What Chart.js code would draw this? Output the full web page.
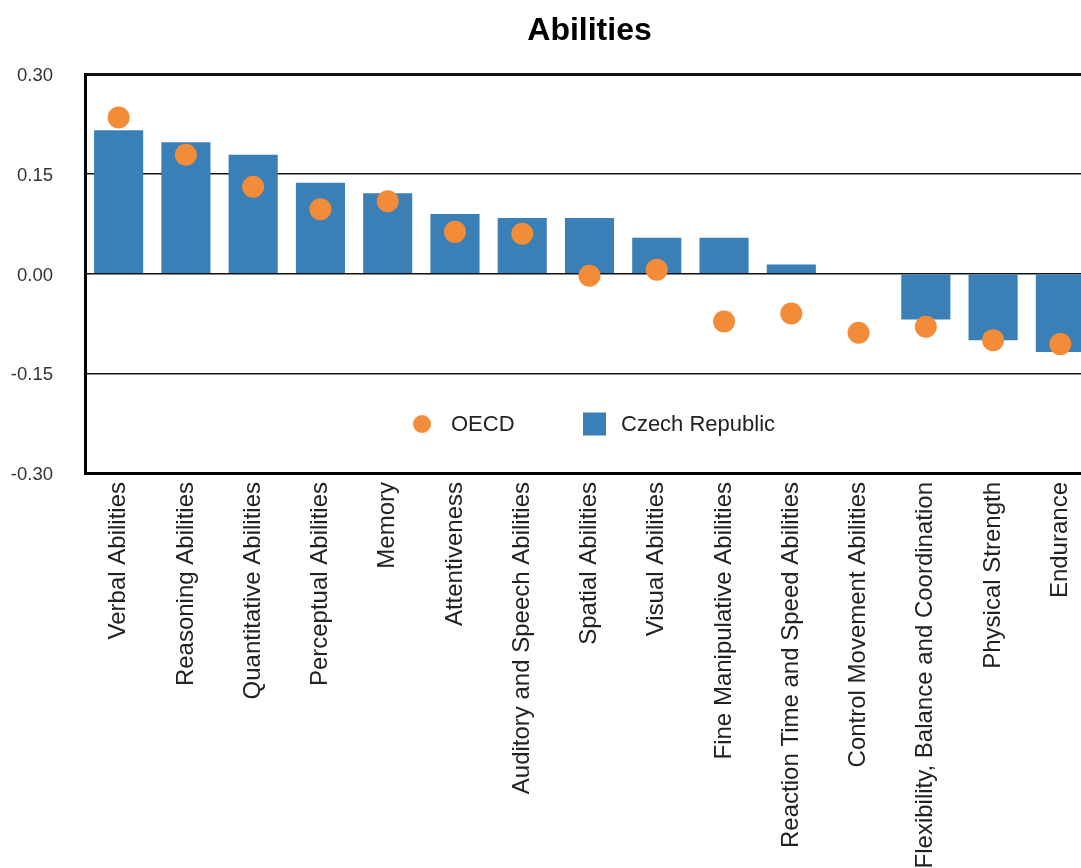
<!DOCTYPE html>
<html>
<head>
<meta charset="utf-8">
<script src="https://cdn.jsdelivr.net/npm/chart.js@4.4.1/dist/chart.umd.min.js"></script>
<style>
  html, body { margin: 0; padding: 0; background: #fff; overflow: hidden; }
  canvas { display: block; }
</style>
</head>
<body>
<canvas id="grafikAbilities" width="1110" height="868"></canvas>
<script>
const labels = [
    "Verbal Abilities", "Reasoning Abilities", "Quantitative Abilities", "Perceptual Abilities",
    "Memory", "Attentiveness", "Auditory and Speech Abilities", "Spatial Abilities",
    "Visual Abilities", "Fine Manipulative Abilities", "Reaction Time and Speed Abilities",
    "Control Movement Abilities", "Flexibility, Balance and Coordination", "Physical Strength", "Endurance"
];
const czech = [0.216, 0.198, 0.179, 0.137, 0.121, 0.090, 0.084, 0.084, 0.054, 0.054, 0.014, 0.0, -0.069, -0.100, -0.118];
const oecd = [0.235, 0.179, 0.131, 0.097, 0.109, 0.063, 0.060, -0.003, 0.006, -0.072, -0.060, -0.089, -0.080, -0.100, -0.106];
const yTicks = [-0.30, -0.15, 0.00, 0.15, 0.30];

const blue = "#3a7fb5";
const orange = "#f28c38";
const font = "'Liberation Sans', Arial, Helvetica, sans-serif";

// legend drawn inside the plot area, like the original
const innerLegend = {
    id: "innerLegend",
    afterDraw(chart) {
        const ctx = chart.ctx;
        const a = chart.chartArea;
        const y = a.bottom - 49;
        ctx.save();
        ctx.fillStyle = orange;
        ctx.beginPath();
        ctx.arc(a.left + 337, y, 9, 0, Math.PI * 2);
        ctx.fill();
        ctx.fillStyle = blue;
        ctx.fillRect(a.left + 498, y - 11.5, 23, 23);
        ctx.fillStyle = "#222";
        ctx.font = "22px " + font;
        ctx.textBaseline = "middle";
        ctx.fillText(chart.data.datasets[0].label, a.left + 366, y + 1);
        ctx.fillText(chart.data.datasets[1].label, a.left + 536, y + 1);
        ctx.restore();
    },
};

new Chart(document.getElementById("grafikAbilities"), {
    data: {
        labels: labels,
        datasets: [
            {
                type: "line",
                label: "OECD",
                data: oecd,
                showLine: false,
                pointRadius: 11,
                pointHoverRadius: 11,
                pointBackgroundColor: orange,
                pointBorderWidth: 0,
                borderColor: orange,
                order: 0,
            },
            {
                type: "bar",
                label: "Czech Republic",
                data: czech,
                backgroundColor: blue,
                barPercentage: 0.73,
                categoryPercentage: 1,
                order: 1,
            },
        ],
    },
    options: {
        responsive: false,
        animation: false,
        layout: { padding: { left: 0, right: 16, top: 0, bottom: 0 } },
        plugins: {
            legend: { display: false },
            tooltip: { enabled: false },
            title: {
                display: true,
                text: "Abilities",
                fullSize: false,
                color: "#000",
                font: { family: font, size: 32, weight: "bold" },
                padding: { top: 12, bottom: 24 },
            },
        },
        scales: {
            x: {
                grid: { display: false, drawTicks: false },
                border: { color: "#000", width: 3 },
                ticks: {
                    autoSkip: false,
                    minRotation: 90,
                    maxRotation: 90,
                    padding: 9,
                    color: "#222",
                    font: { family: font, size: 24 },
                },
                afterFit(scale) { scale.height = 868 - 473; },
            },
            y: {
                min: -0.3,
                max: 0.3,
                afterBuildTicks(scale) { scale.ticks = yTicks.map(v => ({ value: v })); },
                grid: {
                    drawTicks: false,
                    color: "#111",
                    lineWidth: ctx => Math.abs(Math.abs(ctx.tick.value) - 0.3) < 1e-6 ? 3 : 1.5,
                },
                border: { color: "#000", width: 3 },
                ticks: {
                    padding: 32,
                    labelOffset: 2,
                    color: "#333",
                    font: { family: font, size: 18.5 },
                    callback: v => v.toFixed(2),
                },
                afterFit(scale) { scale.width = 85; },
            },
        },
    },
    plugins: [innerLegend],
});
</script>
</body>
</html>
